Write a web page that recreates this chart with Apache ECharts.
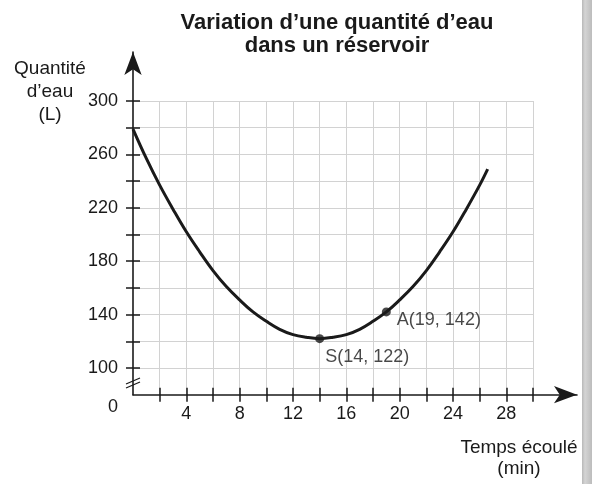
<!DOCTYPE html>
<html>
<head>
<meta charset="utf-8">
<script src="https://cdn.jsdelivr.net/npm/echarts@6/dist/echarts.min.js"></script>
<style>
  html, body { margin: 0; padding: 0; background: #fff; }
  #chart { width: 592px; height: 484px; }
</style>
</head>
<body>
<div id="chart"></div>
<script>
// temps écoulé (min) / quantité d'eau (L)
const times = [0, 1, 2, 3, 4, 5, 6, 7, 8, 9, 10, 11, 12, 13, 14, 15, 16, 17, 18, 19, 20, 21, 22, 23, 24, 25, 26, 26.6]
const water = [279, 257, 237, 219, 202, 187, 173, 161, 151, 142, 135, 129, 125, 123, 122, 123, 125, 129, 135, 142, 151, 161, 173, 187, 202, 219, 237, 249]

const pointNames = ['S', 'A']
const pointTimes = [14, 19]
const pointWater = [122, 142]

const xTicks = [2, 4, 6, 8, 10, 12, 14, 16, 18, 20, 22, 24, 26, 28, 30]
const xTickLabels = [4, 8, 12, 16, 20, 24, 28]
const yTicks = [100, 120, 140, 160, 180, 200, 220, 240, 260, 280, 300]
const yTickLabels = [80, 100, 140, 180, 220, 260, 300]

const FONT = 'Liberation Sans, Arial, sans-serif'
const INK = '#1a1a1a'

// plot area: 0..30 min and 80..300 L
const plotLeft = 133
const plotTop = 101
const plotW = 400
const plotH = 293.7
const pxX = plotW / 30
const pxY = plotH / 220
// arrow axes reach further than the grid
const arrowRight = 577
const arrowTop = 52

const chart = echarts.init(document.getElementById('chart'))

const pointData = pointNames.map((n, i) => ({
  name: n,
  value: [pointTimes[i], pointWater[i]]
}))

const option = {
  animation: false,
  title: {
    text: 'Variation d\u2019une quantité d\u2019eau\ndans un réservoir',
    left: 332,
    top: 6,
    textAlign: 'center',
    textStyle: {
      fontFamily: FONT,
      fontSize: 22,
      fontWeight: 'bold',
      color: INK,
      lineHeight: 23
    }
  },
  grid: [
    { left: plotLeft, top: plotTop, width: plotW, height: plotH },
    {
      left: plotLeft,
      top: arrowTop,
      width: arrowRight - plotLeft,
      height: plotTop + plotH - arrowTop
    }
  ],
  xAxis: [
    {
      gridIndex: 0,
      type: 'value',
      min: 0,
      max: 30,
      interval: 2,
      axisLine: { show: false },
      axisTick: { show: true, length: 7, customValues: xTicks, lineStyle: { color: INK, width: 1.5 } },
      axisLabel: {
        customValues: xTickLabels,
        margin: 10,
        fontFamily: FONT,
        fontSize: 18,
        color: INK
      },
      splitLine: { show: true, lineStyle: { color: '#d2d2d2', width: 1 } }
    },
    {
      gridIndex: 1,
      type: 'value',
      min: 0,
      max: (arrowRight - plotLeft) / pxX,
      axisLine: {
        show: true,
        symbol: ['none', 'arrow'],
        symbolSize: [13, 23],
        lineStyle: { color: INK, width: 1.6 }
      },
      axisTick: { show: true, inside: true, length: 7, customValues: xTicks, lineStyle: { color: INK, width: 1.5 } },
      axisLabel: { show: false },
      splitLine: { show: false }
    }
  ],
  yAxis: [
    {
      gridIndex: 0,
      type: 'value',
      min: 80,
      max: 300,
      interval: 20,
      axisLine: { show: false },
      axisTick: { show: true, length: 7, customValues: yTicks, lineStyle: { color: INK, width: 1.5 } },
      axisLabel: {
        customValues: yTickLabels,
        margin: 15,
        fontFamily: FONT,
        fontSize: 18,
        color: INK,
        formatter: v => (v === 80 ? '{z|0}' : String(v)),
        rich: { z: { fontFamily: FONT, fontSize: 18, color: INK, padding: [24, 0, 0, 0] } }
      },
      splitLine: { show: true, lineStyle: { color: '#d2d2d2', width: 1 } }
    },
    {
      gridIndex: 1,
      type: 'value',
      min: 80,
      max: 80 + (plotTop + plotH - arrowTop) / pxY,
      axisLine: {
        show: true,
        symbol: ['none', 'arrow'],
        symbolSize: [13, 23],
        lineStyle: { color: INK, width: 1.6 }
      },
      axisTick: { show: true, inside: true, length: 7, customValues: yTicks, lineStyle: { color: INK, width: 1.5 } },
      axisLabel: { show: false },
      splitLine: { show: false }
    }
  ],
  graphic: [
    {
      type: 'text',
      style: {
        x: 50,
        y: 57,
        text: 'Quantité\nd\u2019eau\n(L)',
        align: 'center',
        verticalAlign: 'top',
        fontFamily: FONT,
        fontSize: 19,
        lineHeight: 23,
        fill: INK
      }
    },
    {
      type: 'text',
      style: {
        x: 519,
        y: 437,
        text: 'Temps écoulé\n(min)',
        align: 'center',
        verticalAlign: 'top',
        fontFamily: FONT,
        fontSize: 19,
        lineHeight: 21,
        fill: INK
      }
    },
    // break mark on the y axis
    {
      type: 'line',
      shape: { x1: 126, y1: 384, x2: 140, y2: 378 },
      style: { stroke: INK, lineWidth: 1.3 }
    },
    {
      type: 'line',
      shape: { x1: 126, y1: 388, x2: 140, y2: 382 },
      style: { stroke: INK, lineWidth: 1.3 }
    },
    // page edge on the right
    {
      type: 'rect',
      shape: { x: 582, y: 0, width: 10, height: 484 },
      style: {
        fill: new echarts.graphic.LinearGradient(0, 0, 1, 0, [
          { offset: 0, color: '#b8b8b8' },
          { offset: 0.3, color: '#d4d4d4' },
          { offset: 1, color: '#bcbcbc' }
        ])
      }
    }
  ],
  series: [
    {
      type: 'line',
      xAxisIndex: 0,
      yAxisIndex: 0,
      data: times.map((t, i) => [t, water[i]]),
      smooth: 0.4,
      showSymbol: false,
      lineStyle: { color: INK, width: 3 },
      z: 5
    },
    {
      type: 'scatter',
      xAxisIndex: 0,
      yAxisIndex: 0,
      data: pointData,
      symbolSize: 9,
      itemStyle: { color: INK },
      z: 6,
      label: {
        show: true,
        position: 'right',
        fontFamily: FONT,
        fontSize: 18,
        color: INK,
        textBorderWidth: 0,
        formatter: p => p.name + '(' + p.value[0] + ', ' + p.value[1] + ')'
      },
      labelLayout: p => (p.dataIndex === 0
        ? { x: p.rect.x + 10, y: p.rect.y + 23, align: 'left', verticalAlign: 'middle' }
        : { x: p.rect.x + 15, y: p.rect.y + 13, align: 'left', verticalAlign: 'middle' })
    }
  ]
}

chart.setOption(option)
</script>
</body>
</html>
